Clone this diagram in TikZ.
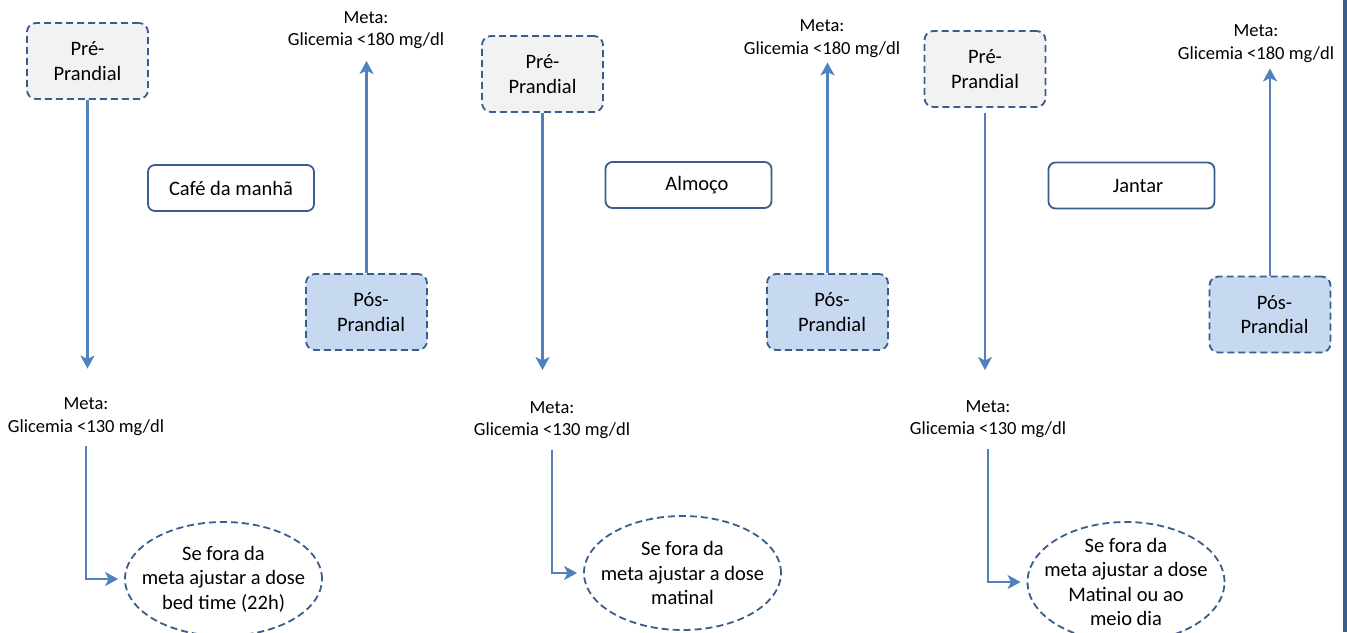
\documentclass[tikz,border=0pt]{standalone}
\usepackage{fontspec}
\setmainfont{Carlito}
\usetikzlibrary{arrows.meta,shapes.geometric}
\definecolor{bordc}{HTML}{3A5E8C}
\definecolor{arrc}{HTML}{4F81BD}
\definecolor{prefill}{HTML}{F2F2F2}
\definecolor{posfill}{HTML}{C6D9F1}
\tikzset{
  big/.style={font=\fontsize{20.5}{24.5}\selectfont},
  small/.style={font=\fontsize{18.5}{22.5}\selectfont},
  dashbox/.style={draw=bordc, line width=1.8pt, dash pattern=on 7pt off 4pt,
    rounded corners=9pt, minimum width=121pt, minimum height=76pt,
    align=center, big, inner sep=0pt},
  prebox/.style={dashbox, fill=prefill},
  posbox/.style={dashbox, fill=posfill},
  mealbox/.style={draw=bordc, line width=1.8pt, rounded corners=7pt,
    minimum width=166pt, minimum height=46pt, big, inner sep=0pt},
  goal/.style={small, align=center, inner sep=0pt},
  action/.style={ellipse, draw=bordc, line width=1.8pt, dash pattern=on 7pt off 4pt,
    minimum width=197pt, minimum height=114pt, align=center, big,
    inner xsep=-16pt, inner ysep=-8pt},
  arr/.style={draw=arrc, line width=2.4pt, -{Stealth[length=13pt,width=14pt,inset=3.5pt]}},
}
\begin{document}
\begin{tikzpicture}[x=1pt,y=-1pt]
\useasboundingbox (0,0) rectangle (1347,632);
\fill[white] (0,0) rectangle (1347,632);
% right border
\fill[bordc] (1343,0) rectangle (1347,632);

% ---- breakfast ----
\node[prebox] (pre1) at (87.5,61) {Pré-\\Prandial};
\node[mealbox] (meal1) at (231,188) {Café da manhã};
\node[posbox] (pos1) at (366.5,312) {\hspace*{9pt}Pós-\\\hspace*{9pt}Prandial};
\node[goal] (up1) at (366,30) {Meta:\\Glicemia <180 mg/dl};
\node[goal] (lo1) at (86,416.5) {Meta:\\Glicemia <130 mg/dl};
\node[action] (act1) at (223.5,579) {Se fora da\\meta ajustar a dose\\bed time (22h)};

% ---- lunch ----
\node[prebox] (pre2) at (542.5,74) {Pré-\\Prandial};
\node[mealbox] (meal2) at (688.5,185) {\hspace*{17pt}Almoço};
\node[posbox] (pos2) at (827.5,312) {\hspace*{9pt}Pós-\\\hspace*{9pt}Prandial};
\node[goal] (up2) at (822,38.5) {Meta:\\Glicemia <180 mg/dl};
\node[goal] (lo2) at (552,420) {Meta:\\Glicemia <130 mg/dl};
\node[action] (act2) at (682.5,573) {Se fora da\\meta ajustar a dose\\matinal};

% ---- dinner ----
\node[prebox] (pre3) at (985,69) {Pré-\\Prandial};
\node[mealbox] (meal3) at (1131.5,185.5) {\hspace*{13pt}Jantar};
\node[posbox] (pos3) at (1270,314.5) {\hspace*{9pt}Pós-\\\hspace*{9pt}Prandial};
\node[goal] (up3) at (1256,43.5) {Meta:\\Glicemia <180 mg/dl};
\node[goal] (lo3) at (988,419) {Meta:\\Glicemia <130 mg/dl};
\node[action, minimum height=120pt] (act3) at (1126,582) {Se fora da\\meta ajustar a dose\\Matinal ou ao\\meio dia};

% ---- connectors ----
\draw[arr, shorten >=29pt] (pre1.south) -- (pre1.south |- lo1.north);
\draw[arr, shorten >=12pt] (pos1.north) -- (pos1.north |- up1.south);
\draw[arr, shorten <=11pt, shorten >=6pt] (lo1.south) |- (act1.west);

\draw[arr, shorten >=31pt] (pre2.south) -- (pre2.south |- lo2.north);
\draw[arr, shorten >=5pt] (pos2.north) -- (pos2.north |- up2.south);
\draw[arr, shorten <=11pt, shorten >=6pt] (lo2.south) |- (act2.west);

\draw[arr, shorten <=5pt, shorten >=30pt] (pre3.south) -- (pre3.south |- lo3.north);
\draw[arr, shorten >=6pt] (pos3.north) -- (pos3.north |- up3.south);
\draw[arr, shorten <=11pt, shorten >=6pt] (lo3.south) |- (act3.west);
\end{tikzpicture}
\end{document}
